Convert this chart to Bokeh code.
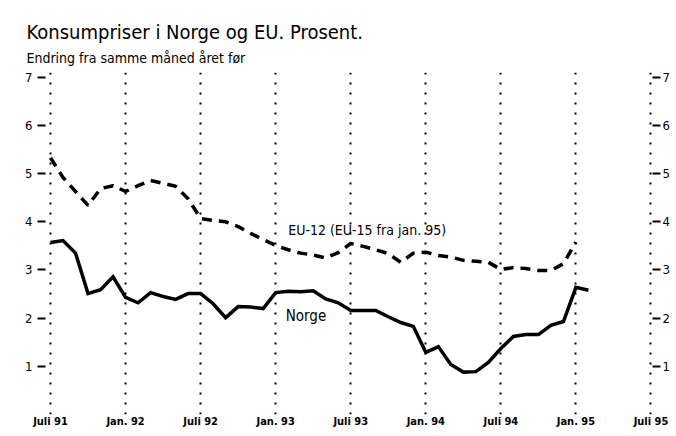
from bokeh.plotting import figure
from bokeh.models import FixedTicker, LinearAxis, Range1d, Title, Label, Grid
from bokeh.embed import file_html
from bokeh.resources import INLINE

# ---- data ----
tick_months = [0, 6, 12, 18, 24, 30, 36, 42, 48]
tick_labels = ["Juli 91", "Jan. 92", "Juli 92", "Jan. 93", "Juli 93",
               "Jan. 94", "Juli 94", "Jan. 95", "Juli 95"]
y_ticks = [1, 2, 3, 4, 5, 6, 7]

norge = [3.57, 3.61, 3.35, 2.51, 2.59, 2.86, 2.43, 2.32, 2.53, 2.45, 2.39, 2.51,
         2.51, 2.30, 2.01, 2.24, 2.23, 2.20, 2.53, 2.56, 2.55, 2.57, 2.40, 2.32,
         2.16, 2.16, 2.16, 2.03, 1.91, 1.83, 1.29, 1.41, 1.04, 0.88, 0.89, 1.08,
         1.37, 1.62, 1.66, 1.66, 1.85, 1.93, 2.64, 2.58]
eu = [5.33, 4.92, 4.63, 4.34, 4.69, 4.75, 4.63, 4.75, 4.86, 4.80, 4.74, 4.48,
      4.07, 4.03, 4.00, 3.90, 3.76, 3.63, 3.51, 3.42, 3.35, 3.31, 3.25, 3.36,
      3.55, 3.49, 3.42, 3.34, 3.16, 3.35, 3.37, 3.30, 3.27, 3.20, 3.18, 3.16,
      3.01, 3.05, 3.03, 2.99, 2.99, 3.13, 3.58]
norge_months = list(range(len(norge)))
eu_months = list(range(len(eu)))

FONT = "DejaVu Sans Condensed"
X_START, X_END = -0.4, 48.12

p = figure(width=676, height=436, output_backend="svg", toolbar_location=None,
           x_range=Range1d(X_START, X_END), y_range=Range1d(0, 7.1),
           min_border_left=45, min_border_right=24, min_border_top=72,
           min_border_bottom=22, y_axis_location=None, x_axis_location=None)
p.outline_line_color = None
p.background_fill_color = "white"
p.border_fill_color = "white"
p.ygrid.visible = False
p.xgrid.visible = False

# vertical dotted grid
xgrid = Grid(dimension=0, ticker=FixedTicker(ticks=tick_months),
             grid_line_color="black", grid_line_width=2, grid_line_dash="2 8")
p.add_layout(xgrid)

# axes
xa = LinearAxis(ticker=FixedTicker(ticks=tick_months),
                major_label_overrides={m: l for m, l in zip(tick_months, tick_labels)})
xa.axis_line_color = None
xa.major_tick_line_color = None
xa.minor_tick_line_color = None
xa.major_tick_in = 0
xa.major_tick_out = 0
xa.minor_tick_in = 0
xa.minor_tick_out = 0
xa.axis_label_standoff = 0
xa.major_label_standoff = 0
xa.major_label_text_font = FONT
xa.major_label_text_font_style = "bold"
xa.major_label_text_font_size = "11px"
xa.major_label_text_color = "black"
p.add_layout(xa, "below")

for side in ("left", "right"):
    ya = LinearAxis(ticker=FixedTicker(ticks=y_ticks))
    ya.axis_line_color = None
    ya.minor_tick_line_color = None
    ya.minor_tick_in = 0
    ya.minor_tick_out = 0
    ya.axis_label_standoff = 0
    ya.major_tick_line_color = "black"
    ya.major_tick_line_width = 2
    ya.major_tick_in = 0
    ya.major_tick_out = 8
    ya.major_label_standoff = 5 if side == "left" else 2
    ya.major_label_text_font = FONT
    ya.major_label_text_font_size = "13px"
    ya.major_label_text_color = "black"
    p.add_layout(ya, side)

# series
p.line(eu_months, eu, line_color="black", line_width=3.5, line_dash="10 7")
p.line(norge_months, norge, line_color="black", line_width=3.5, line_join="miter")

# in-chart labels
EU_LABEL_POS = (19.0, 3.84)
NORGE_LABEL_POS = (18.8, 2.04)
p.add_layout(Label(x=EU_LABEL_POS[0], y=EU_LABEL_POS[1], text="EU-12 (EU-15 fra jan. 95)",
                   text_font=FONT, text_font_size="14px", text_baseline="middle",
                   text_color="black"))
p.add_layout(Label(x=NORGE_LABEL_POS[0], y=NORGE_LABEL_POS[1], text="Norge",
                   text_font=FONT, text_font_size="15px", text_baseline="middle",
                   text_color="black"))

# titles
sub = Title(text="Endring fra samme måned året før", align="left", offset=-19,
            text_font=FONT, text_font_size="14px", text_font_style="normal",
            text_color="black", standoff=14)
p.add_layout(sub, "above")
main = Title(text="Konsumpriser i Norge og EU. Prosent.", align="left", offset=-19,
             text_font=FONT, text_font_size="20px", text_font_style="normal",
             text_color="black", standoff=-6)
p.add_layout(main, "above")

open("out.html", "w").write(file_html(p, INLINE))
